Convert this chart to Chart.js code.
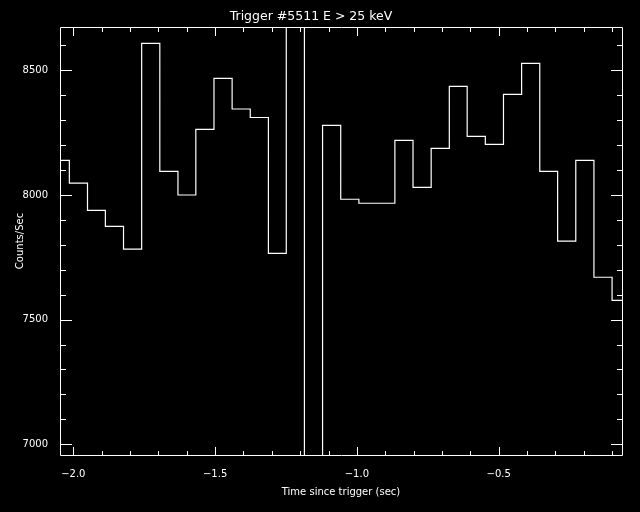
<!DOCTYPE html>
<html>
<head>
<meta charset="utf-8">
<script src="https://cdn.jsdelivr.net/npm/chart.js@4.4.0/dist/chart.umd.min.js"></script>
<style>
  html, body { margin: 0; padding: 0; background: #000; }
  canvas { display: block; }
</style>
</head>
<body>
<canvas id="lightCurve" width="640" height="512"></canvas>
<script>
// bin edges (sec since trigger), the last one closes the final bin
const binEdges = [
  -2.078, -2.014, -1.950, -1.887, -1.823, -1.759, -1.695, -1.631,
  -1.568, -1.504, -1.440, -1.376, -1.312, -1.249, -1.185, -1.121,
  -1.057, -0.993, -0.930, -0.866, -0.802, -0.738, -0.674, -0.611,
  -0.547, -0.483, -0.419, -0.355, -0.292, -0.228, -0.164, -0.100,
  -0.036
];
// counts/sec in each bin
const countRates = [
  8139, 8048, 7938, 7874, 7783, 8608, 8095, 8000,
  8263, 8468, 8345, 8311, 7766, 8760, 6880, 8279,
  7983, 7967, 7967, 8219, 8031, 8187, 8436, 8235,
  8203, 8404, 8528, 8095, 7815, 8139, 7670, 7577
];
const xTicks = [-2.0, -1.5, -1.0, -0.5];
const yTicks = [7000, 7500, 8000, 8500];
const xRange = [-2.047, -0.065];
const yRange = [6957, 8674];

const fontFamily = "'DejaVu Sans', sans-serif";

// step histogram points: each bin start plus the closing edge
let points = binEdges.map((t, i) => ({
  x: t,
  y: countRates[Math.min(i, countRates.length - 1)]
}));

// IDL style frame: box on all four sides with inward major/minor ticks
const idlFrame = {
  id: "idlFrame",
  afterDatasetsDraw(chart) {
    const { ctx, chartArea: a, scales } = chart;
    const xs = scales.x, ys = scales.y;
    ctx.save();
    ctx.strokeStyle = "#fff";
    ctx.lineWidth = 1;
    ctx.beginPath();
    ctx.rect(a.left + 0.5, a.top + 0.5, a.right - a.left, a.bottom - a.top);

    for (let v = 7000; v <= 8600; v += 100) {
      let py = Math.round(ys.getPixelForValue(v)) + 0.5;
      let len = yTicks.includes(v) ? 12 : 6;
      ctx.moveTo(a.left, py); ctx.lineTo(a.left + len, py);
      ctx.moveTo(a.right + 1, py); ctx.lineTo(a.right + 1 - len, py);
    }
    for (let k = -20; k <= -1; k++) {
      let v = k / 10;
      let px = Math.round(xs.getPixelForValue(v)) + 0.5;
      let len = k % 5 === 0 ? 8 : 4;
      ctx.moveTo(px, a.bottom); ctx.lineTo(px, a.bottom - len);
      ctx.moveTo(px, a.top + 1); ctx.lineTo(px, a.top + 1 + len);
    }
    ctx.stroke();
    ctx.restore();
  }
};

const ctx = document.getElementById("lightCurve").getContext("2d");

new Chart(ctx, {
  type: "line",
  data: {
    datasets: [{
      data: points,
      stepped: true,
      borderColor: "#fff",
      borderWidth: 1.2,
      pointRadius: 0,
      fill: false
    }]
  },
  options: {
    responsive: false,
    animation: false,
    layout: { padding: { top: 0, right: 18, bottom: 0, left: 0 } },
    plugins: {
      legend: { display: false },
      tooltip: { enabled: false },
      title: {
        display: true,
        text: "Trigger #5511 E > 25 keV",
        color: "#fff",
        font: { family: fontFamily, size: 12.5, weight: "normal" },
        padding: { top: 9, bottom: 3 }
      }
    },
    scales: {
      x: {
        type: "linear",
        min: xRange[0],
        max: xRange[1],
        afterBuildTicks: s => { s.ticks = xTicks.map(v => ({ value: v })); },
        afterFit: s => { s.height = 57; },
        grid: { display: false },
        border: { display: false },
        ticks: {
          color: "#fff",
          font: { family: fontFamily, size: 10 },
          padding: 5,
          maxRotation: 0,
          callback: v => "\u2212" + Math.abs(v).toFixed(1)
        },
        title: {
          display: true,
          text: "Time since trigger (sec)",
          color: "#fff",
          font: { family: fontFamily, size: 10 },
          padding: { top: 0, bottom: 14 }
        }
      },
      y: {
        min: yRange[0],
        max: yRange[1],
        afterBuildTicks: s => { s.ticks = yTicks.map(v => ({ value: v })); },
        afterFit: s => { s.width = 60; },
        grid: { display: false },
        border: { display: false },
        ticks: {
          color: "#fff",
          font: { family: fontFamily, size: 10 },
          padding: 4,
          callback: v => String(v)
        },
        title: {
          display: true,
          text: "Counts/Sec",
          color: "#fff",
          font: { family: fontFamily, size: 10 },
          padding: { top: 14, bottom: 0 }
        }
      }
    }
  },
  plugins: [idlFrame]
});
</script>
</body>
</html>
